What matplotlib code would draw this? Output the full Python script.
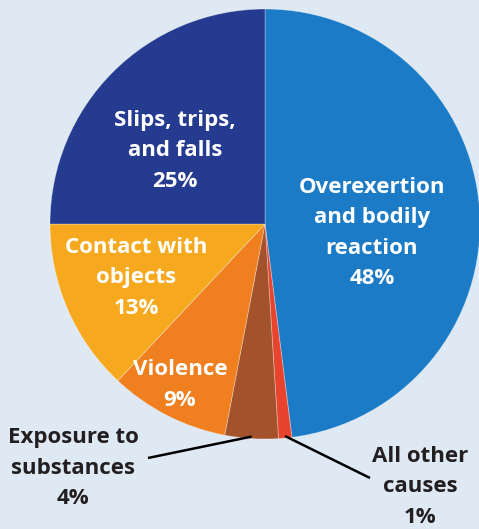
import numpy as np
import matplotlib.pyplot as plt

labels = ["Overexertion\nand bodily\nreaction", "All other\ncauses", "Exposure to\nsubstances",
          "Violence", "Contact with\nobjects", "Slips, trips,\nand falls"]
shares = [48, 1, 4, 9, 13, 25]
colors = ["#1b7bc6", "#e8432d", "#a3522b", "#ef7f1f", "#f6a91e", "#243b8f"]

bg = "#dfe9f3"
W, H = 479, 529
cx, cy, r = 265, H - 224, 215

fig = plt.figure(figsize=(W / 100, H / 100), dpi=100, facecolor=bg)
ax = fig.add_axes([0, 0, 1, 1])
ax.set_facecolor(bg)

wedges, _ = ax.pie(shares, colors=colors, startangle=90, counterclock=False,
                   center=(cx, cy), radius=r, frame=True,
                   wedgeprops=dict(linewidth=0.6, edgecolor=(1, 1, 1, 0.35)))
ax.set_xlim(0, W)
ax.set_ylim(0, H)
ax.set_aspect("equal")
ax.axis("off")

font = dict(family=["Open Sans", "DejaVu Sans"], fontweight="bold", fontsize=16,
            ha="center", va="center", linespacing=1.58)

# inside labels: (index, x, y) in pixel coords of the picture
inside = {0: (372, 233), 5: (175, 151), 4: (136, 278), 3: (180, 385)}
for i, (x, y) in inside.items():
    ax.text(x, H - y, f"{labels[i]}\n{shares[i]}%", color="white", **font)

# outside labels with leader lines
outside = {2: ((73, 468), (148, 458)), 1: ((420, 487), (370, 478))}
for i, ((x, y), (lx, ly)) in outside.items():
    w = wedges[i]
    mid = np.deg2rad((w.theta1 + w.theta2) / 2)
    ex, ey = cx + (r - 2) * np.cos(mid), cy + (r - 2) * np.sin(mid)
    ax.plot([ex, lx], [ey, H - ly], color="black", lw=1.8, solid_capstyle="butt")
    ax.text(x, H - y, f"{labels[i]}\n{shares[i]}%", color="#231f20", **font)

fig.savefig("out.png", dpi=100, facecolor=bg)
